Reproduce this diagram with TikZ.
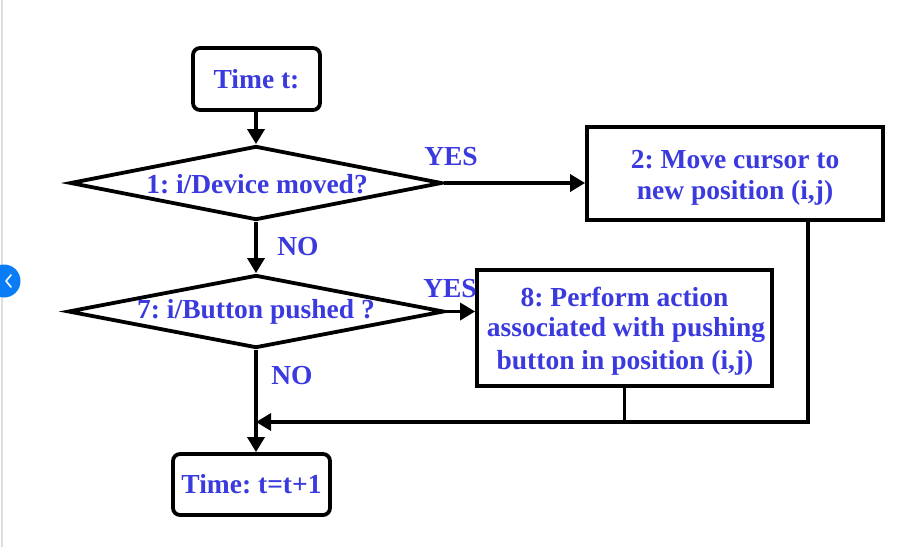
\documentclass[tikz,border=0pt]{standalone}
\usepackage{fontspec}
\setmainfont{Liberation Serif}
\usetikzlibrary{shapes.geometric,arrows.meta}
\definecolor{txtblue}{RGB}{58,58,222}
\definecolor{uiblue}{RGB}{10,124,245}
\definecolor{uigray}{RGB}{222,222,222}
\frenchspacing
\tikzset{
  every node/.style={font=\fontsize{27.5}{33}\selectfont\bfseries\frenchspacing, text=txtblue},
  lbl/.style={inner sep=0pt},
  termbox/.style={draw=black, line width=3.8pt, rounded corners=7pt, inner sep=0pt},
  procbox/.style={draw=black, line width=3.8pt, inner sep=0pt, align=center},
  decis/.style={draw=black, line width=3.8pt, diamond, inner sep=0pt},
  conn/.style={draw=black, line width=3.4pt, -{Triangle[length=15pt,width=17pt]}},
  plainconn/.style={draw=black, line width=3.4pt},
}
\begin{document}
\begin{tikzpicture}[x=1pt,y=-1pt]
\useasboundingbox (0,0) rectangle (917,547);
\fill[white] (0,0) rectangle (917,547);
% UI artifacts of the screenshot
\draw[uigray, line width=1.5pt] (2,0) -- (2,547);
\fill[uiblue] (4,281) circle (16.5);
\draw[white, line width=1.6pt, line cap=round, line join=round] (11,275) -- (6,281) -- (11,287);

% nodes
\node[termbox, minimum width=127pt, minimum height=62pt] (t0) at (256.5,79) {Time t:};
\node[decis, minimum width=372pt, minimum height=74pt] (d1) at (256,183) {};
\node[lbl] (d1t) at (257,184) {1: i/Device moved?};
\node[procbox, minimum width=296pt, minimum height=93pt] (b2) at (735,173.5) {};
\node[lbl] (b2a) at (735,160) {2: Move cursor to};
\node[lbl] (b2b) at (735,193) {new position (i,j)};
\node[decis, minimum width=376pt, minimum height=73pt] (d7) at (256,311.5) {};
\node[lbl] (d7t) at (256,312) {7: i/Button pushed ?};
\node[procbox, minimum width=295pt, minimum height=116pt] (b8) at (624.5,328) {};
\node[lbl] (b8a) at (624.5,297) {8: Perform action};
\node[lbl] (b8b) at (626,330) {associated with pushing};
\node[lbl] (b8c) at (625,363) {button in position (i,j)};
\node[termbox, minimum width=157pt, minimum height=61pt] (t1) at (251.5,484.5) {Time: t=t+1};

% labels
\node[lbl] (yes1) at (451,157) {YES};
\node[lbl] (no1) at (298,247) {NO};
\node[lbl] (yes2) at (450,289) {YES};
\node[lbl] (no2) at (292,376) {NO};

% connectors
\coordinate (b2out) at (808,220);
\coordinate (b8out) at (b8.south);
\coordinate (join) at (256,422);
\draw[conn] (t0.south -| d1.north) -- (d1.north);
\draw[conn] (d1.east) -- (d1.east -| b2.west);
\draw[conn] (d1.south) -- (d7.north);
\draw[conn] (d7.east) -- (d7.east -| b8.west);
\draw[conn] (d7.south) -- (d7.south |- t1.north);
\draw[plainconn] (b8out) -- (b8out |- join);
\draw[conn] (b2out) -- (b2out |- join) -- (join);
\end{tikzpicture}
\end{document}
